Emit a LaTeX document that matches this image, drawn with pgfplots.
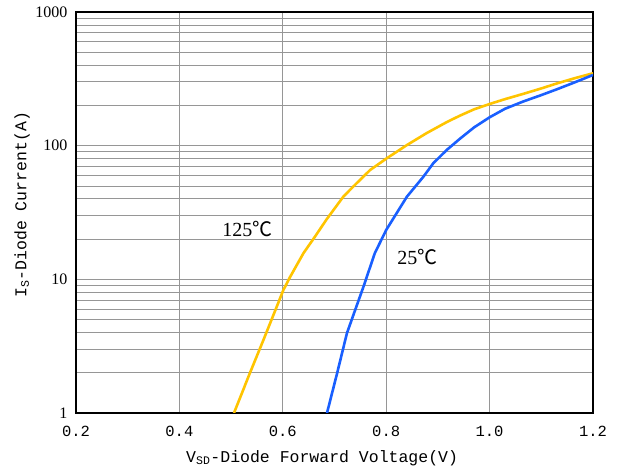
\documentclass[border=0pt]{standalone}
\usepackage{pgfplots}
\pgfplotsset{compat=1.18}
\usepackage{fontspec}
\setmainfont{Liberation Serif}
\newfontfamily\monofont{Liberation Mono}
\newfontfamily\cjk{Noto Sans CJK SC}
\definecolor{cyel}{RGB}{255,196,0}
\definecolor{cblue}{RGB}{25,95,255}
\definecolor{cgrid}{RGB}{150,150,150}
\begin{document}
\begin{tikzpicture}
\useasboundingbox (-76pt,-63pt) rectangle (543pt,413pt);
\begin{axis}[
  at={(0,0)}, anchor=south west,
  scale only axis, width=517pt, height=401pt,
  xmin=0.2, xmax=1.2, ymode=log, ymin=1, ymax=1000,
  xtick={0.2,0.4,0.6,0.8,1.0,1.2},
  ytick={1,10,100,1000}, yticklabels={1,10,100,1000},
  xmajorgrids, ymajorgrids, yminorgrids,
  major grid style={cgrid, line width=0.8pt},
  minor grid style={cgrid, line width=0.8pt},
  major tick length=0pt, minor tick length=0pt,
  axis line style={black, line width=1.6pt},
  xticklabel style={font=\monofont\fontsize{15.5}{15.5}\selectfont, yshift=-10pt, /pgf/number format/.cd, fixed, fixed zerofill, precision=1, assume math mode=true},
  yticklabel style={font=\fontsize{16}{16}\selectfont, xshift=-5pt},
  xlabel={V\textsubscript{SD}-Diode Forward Voltage(V)},
  ylabel={I\textsubscript{S}-Diode Current(A)},
  xlabel style={font=\monofont\fontsize{16.5}{16.5}\selectfont, at={(rel axis cs:0.476,0)}, anchor=center, yshift=-45pt},
  ylabel style={font=\monofont\fontsize{16.5}{16.5}\selectfont, at={(rel axis cs:0,0.519)}, anchor=center, yshift=54pt},
  clip=true,
]
\addplot[cyel, line width=2.6pt, line join=round] coordinates {
(0.5056,1) (0.5366,2.0) (0.5623,3.5) (0.585,5.8) (0.601,8.3) (0.614,10.4)
(0.64,15.7) (0.662,20.8) (0.685,28.2) (0.717,41.5) (0.736,49.3) (0.769,65.8)
(0.801,80.4) (0.840,101) (0.878,124) (0.917,150) (0.943,168) (0.97,187) (1.0,205)
(1.03,223) (1.065,244) (1.1,268) (1.13,292) (1.165,320) (1.2,348)
};
\addplot[cblue, line width=2.6pt, line join=round] coordinates {
(0.6855,1) (0.705,1.98) (0.724,3.95) (0.74,5.9) (0.756,8.8) (0.778,15.7) (0.8,23.4)
(0.814,28.6) (0.840,41.5) (0.872,58.6) (0.891,73.8) (0.917,92.8) (0.943,113)
(0.97,137) (1.0,163) (1.03,189) (1.065,214) (1.1,239) (1.13,264) (1.165,298) (1.2,338)
};
\node[font=\fontsize{20}{20}\selectfont] at (axis cs:0.5315,23.8) {125{\cjk ℃}};
\node[font=\fontsize{20}{20}\selectfont] at (axis cs:0.8603,14.7) {25{\cjk ℃}};
\end{axis}
\end{tikzpicture}
\end{document}
